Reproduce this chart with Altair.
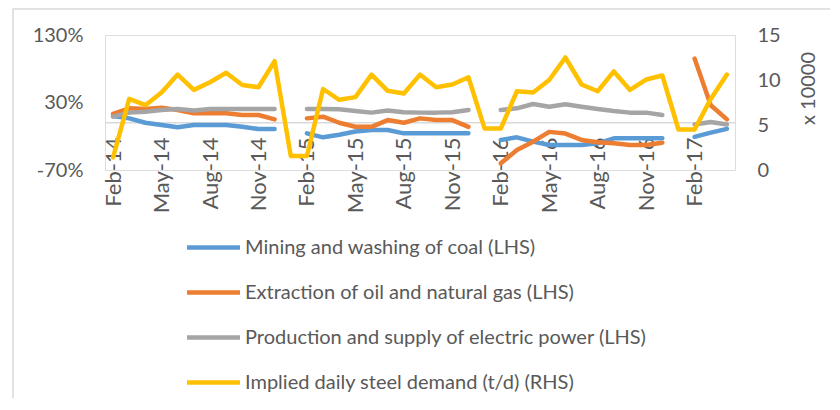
import altair as alt
import pandas as pd

months = ["Feb-14", "Mar-14", "Apr-14", "May-14", "Jun-14", "Jul-14", "Aug-14", "Sep-14", "Oct-14", "Nov-14", "Dec-14",
          "Jan-15", "Feb-15", "Mar-15", "Apr-15", "May-15", "Jun-15", "Jul-15", "Aug-15", "Sep-15", "Oct-15", "Nov-15", "Dec-15",
          "Jan-16", "Feb-16", "Mar-16", "Apr-16", "May-16", "Jun-16", "Jul-16", "Aug-16", "Sep-16", "Oct-16", "Nov-16", "Dec-16",
          "Jan-17", "Feb-17", "Mar-17", "Apr-17"]
shown_months = ["Feb-14", "May-14", "Aug-14", "Nov-14", "Feb-15", "May-15", "Aug-15", "Nov-15",
                "Feb-16", "May-16", "Aug-16", "Nov-16", "Feb-17"]

series_names = ["Mining and washing of coal (LHS)",
                "Extraction of oil and natural gas (LHS)",
                "Production and supply of electric power (LHS)",
                "Implied daily steel demand (t/d) (RHS)"]
series_colors = ["#5B9BD5", "#ED7D31", "#A5A5A5", "#FFC000"]

# LHS series, % y/y
coal = [10, 6.5, 0, -3.3, -6.8, -3.3, -3.3, -3.3, -5.8, -9.3, -9.3,
        None, -15.7, -21.6, -17.7, -13, -10.7, -10.7, -15.7, -15.7, -15.7, -15.7, -15.7,
        None, -25.5, -21.6, -28, -33, -33, -33, -30.5, -23, -23, -23, -23,
        None, -21, -14.7, -9]
oil = [13, 21.4, 20.4, 22.4, 19, 14, 14, 14, 11.5, 11.5, 5,
       None, 6.5, 9, 0, -6, -6, 4, 0, 6.5, 4, 4, -6,
       None, -60, -40.5, -28, -13.5, -16, -25.5, -29, -30.5, -33, -33, -29.5,
       None, 95, 26, 5]
power = [9, 15, 16.4, 19, 20.4, 18, 20.4, 20.4, 20.4, 20.4, 20.4,
         None, 20.4, 20.4, 20, 17.4, 15, 18, 15.4, 15, 15, 15.6, 19,
         None, 19, 21.4, 27.8, 23.8, 27.3, 23.8, 20.4, 17.4, 15, 15, 11.5,
         None, -2.5, 1, -2.5]
# RHS series, x 10000 t/d
steel = [1.4, 7.9, 7.2, 8.6, 10.6, 8.9, 9.75, 10.8, 9.45, 9.2, 12.1,
         1.56, 1.56, 9.0, 7.8, 8.1, 10.6, 8.8, 8.5, 10.6, 9.2, 9.5, 10.3,
         4.6, 4.6, 8.75, 8.6, 10.0, 12.5, 9.5, 8.75, 10.95, 8.9, 10.05, 10.5,
         4.5, 4.5, 7.9, 10.6]

rows = []
for name, vals in zip(series_names[:3], [coal, oil, power]):
    for m, v in zip(months, vals):
        rows.append({"month": m, "series": name, "value": v})
left_df = pd.DataFrame(rows)
right_df = pd.DataFrame({"month": months, "series": series_names[3], "value": steel})

FONT = "Lato"
GREY = "#595959"

x_enc = alt.X("month:O", sort=months,
              scale=alt.Scale(type="point", padding=0.5),
              axis=alt.Axis(values=shown_months, labelAngle=270, labelAlign="right",
                            labelBaseline="middle", domain=False, ticks=False, tickSize=0,
                            labelPadding=14, offset=-47, labelFontSize=22, labelColor=GREY,
                            labelFont=FONT, title=None, grid=False))

color_enc = alt.Color("series:N",
                      scale=alt.Scale(domain=series_names, range=series_colors),
                      sort=series_names,
                      legend=alt.Legend(orient="none", legendX=93, legendY=197,
                                        direction="vertical", title=None,
                                        symbolType="M-2,0L2,0", symbolSize=702,
                                        symbolStrokeWidth=4.5, labelFont=FONT,
                                        labelFontSize=20, labelColor=GREY,
                                        labelOffset=16, rowPadding=19, padding=0,
                                        labelLimit=700))

frame = alt.Chart(pd.DataFrame({"a": [0]})).mark_rect(
    filled=False, stroke="#D9D9D9", strokeWidth=1.5
).encode(x=alt.value(-92), x2=alt.value(760), y=alt.value(-26), y2=alt.value(400))

zero = alt.Chart(pd.DataFrame({"z": [0]})).mark_rule(
    color="#D9D9D9", strokeWidth=1.5
).encode(y=alt.Y("z:Q", scale=alt.Scale(domain=[-70, 130])))

left_lines = alt.Chart(left_df).mark_line(
    strokeWidth=4.5, strokeCap="round", strokeJoin="round"
).encode(
    x=x_enc,
    y=alt.Y("value:Q", scale=alt.Scale(domain=[-70, 130], nice=False, zero=False),
            axis=alt.Axis(values=[-70, 30, 130], labelExpr="datum.value + '%'",
                          domain=False, ticks=False, grid=False, labelPadding=22,
                          labelFontSize=20, labelColor=GREY, labelFont=FONT, title=None)),
    color=color_enc,
)

left = alt.layer(frame, zero, left_lines)

right_line = alt.Chart(right_df).mark_line(
    strokeWidth=4.5, strokeCap="round", strokeJoin="round"
).encode(
    x=x_enc,
    y=alt.Y("value:Q", scale=alt.Scale(domain=[0, 15], nice=False, zero=False),
            axis=alt.Axis(orient="right", values=[0, 5, 10, 15], domain=False, ticks=False,
                          grid=False, labelPadding=22, labelFontSize=20, labelColor=GREY,
                          labelFont=FONT, title="x 10000", titleAngle=270,
                          titleFontSize=20, titleFontWeight="normal", titleColor=GREY,
                          titleFont=FONT, titleX=73, titleY=53, titleAlign="center",
                          titleBaseline="middle")),
    color=color_enc,
)

chart = alt.layer(left, right_line).resolve_scale(y="independent").properties(
    width=630, height=135,
    autosize=alt.AutoSizeParams(type="none"),
    padding={"left": 97, "top": 27, "right": 95, "bottom": 228},
).configure_view(stroke=None).configure(font=FONT)

chart.save("out.html", embed_options={"renderer": "svg", "actions": False})
